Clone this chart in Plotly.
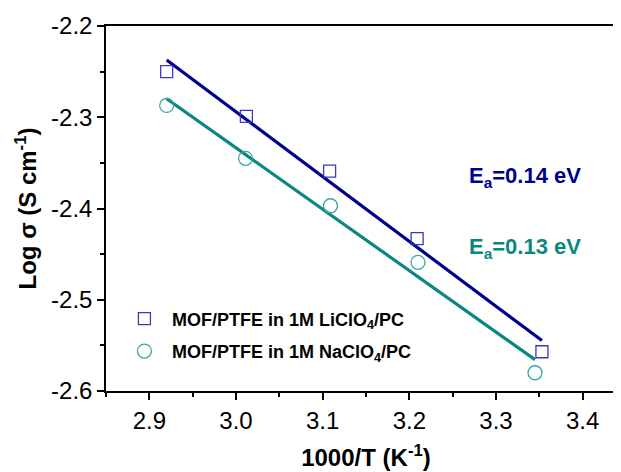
import numpy as np
import plotly.graph_objects as go

# Data
x_li = [2.920, 3.012, 3.108, 3.209, 3.353]
y_li = [-2.250, -2.299, -2.359, -2.433, -2.557]
x_na = [2.920, 3.011, 3.109, 3.210, 3.345]
y_na = [-2.287, -2.345, -2.397, -2.459, -2.580]
label_li = "MOF/PTFE in 1M LiClO<sub>4</sub>/PC"
label_na = "MOF/PTFE in 1M NaClO<sub>4</sub>/PC"
ea_li = "E<sub>a</sub>=0.14 eV"
ea_na = "E<sub>a</sub>=0.13 eV"
x_ticks = [2.9, 3.0, 3.1, 3.2, 3.3, 3.4]
x_ticktext = ["2.9", "3.0", "3.1", "3.2", "3.3", "3.4"]
y_ticks = [-2.6, -2.5, -2.4, -2.3, -2.2]
y_ticktext = ["-2.6", "-2.5", "-2.4", "-2.3", "-2.2"]

navy_line = "#00008f"
navy_mark = "#3a3ac0"
teal_line = "#0a8880"
teal_mark = "#3aa5a5"
FONT = "Liberation Sans, Arial"

def fit(xs, ys):
    k, b = np.polyfit(xs, ys, 1)
    xe = [min(xs), max(xs)]
    return xe, [k * v + b for v in xe]

fig = go.Figure()
fx, fy = fit(x_li, y_li)
fig.add_trace(go.Scatter(x=fx, y=fy, mode="lines", line=dict(color=navy_line, width=3.2),
                         showlegend=False, hoverinfo="skip"))
fx, fy = fit(x_na, y_na)
fig.add_trace(go.Scatter(x=fx, y=fy, mode="lines", line=dict(color=teal_line, width=3.2),
                         showlegend=False, hoverinfo="skip"))
fig.add_trace(go.Scatter(x=x_li, y=y_li, mode="markers", name=label_li, legendgroup="li",
                         marker=dict(symbol="square-open", size=12, color=navy_mark,
                                     line=dict(width=1.3, color=navy_mark))))
fig.add_trace(go.Scatter(x=x_na, y=y_na, mode="markers", name=label_na, legendgroup="na",
                         marker=dict(symbol="circle-open", size=14, color=teal_mark,
                                     line=dict(width=1.3, color=teal_mark))))

fig.add_annotation(x=3.267, y=-2.366, xref="x", yref="y", text=ea_li, showarrow=False,
                   xanchor="left", font=dict(size=22, color=navy_line, family=FONT, weight="bold"))
fig.add_annotation(x=3.267, y=-2.443, xref="x", yref="y", text=ea_na, showarrow=False,
                   xanchor="left", font=dict(size=22, color=teal_line, family=FONT, weight="bold"))

fig.update_layout(
    width=621, height=472,
    margin=dict(l=98, r=3, t=18, b=89, autoexpand=False),
    paper_bgcolor="white", plot_bgcolor="white",
    font=dict(family=FONT, color="black"),
    legend=dict(x=0.021, y=0.248, xanchor="left", yanchor="top", bgcolor="rgba(0,0,0,0)",
                font=dict(size=18, color="black", weight="bold"), itemwidth=45,
                tracegroupgap=6),
    xaxis=dict(range=[2.85, 3.45], tickvals=x_ticks, ticktext=x_ticktext, automargin=False,
               showgrid=False, zeroline=False, showline=True, linecolor="black", linewidth=1.5,
               mirror=True, ticks="outside", ticklen=7, tickwidth=1.5, tickcolor="black",
               minor=dict(dtick=0.05, tick0=2.85, ticks="outside", ticklen=4, tickwidth=1.5, tickcolor="black"),
               tickfont=dict(size=24),
               title=dict(text="<b>1000/T (K<sup>-1</sup>)</b>", font=dict(size=24), standoff=17)),
    yaxis=dict(range=[-2.6, -2.2], tickvals=y_ticks, ticktext=y_ticktext, automargin=False,
               showgrid=False, zeroline=False, showline=True, linecolor="black", linewidth=1.5,
               mirror=True, ticks="outside", ticklen=7, tickwidth=1.5, tickcolor="black",
               minor=dict(dtick=0.05, tick0=-2.6, ticks="outside", ticklen=4, tickwidth=1.5, tickcolor="black"),
               tickfont=dict(size=24),
               title=dict(text="<b>Log σ (S cm<sup>-1</sup>)</b>", font=dict(size=24), standoff=8)),
)

fig.write_html("out.html")
